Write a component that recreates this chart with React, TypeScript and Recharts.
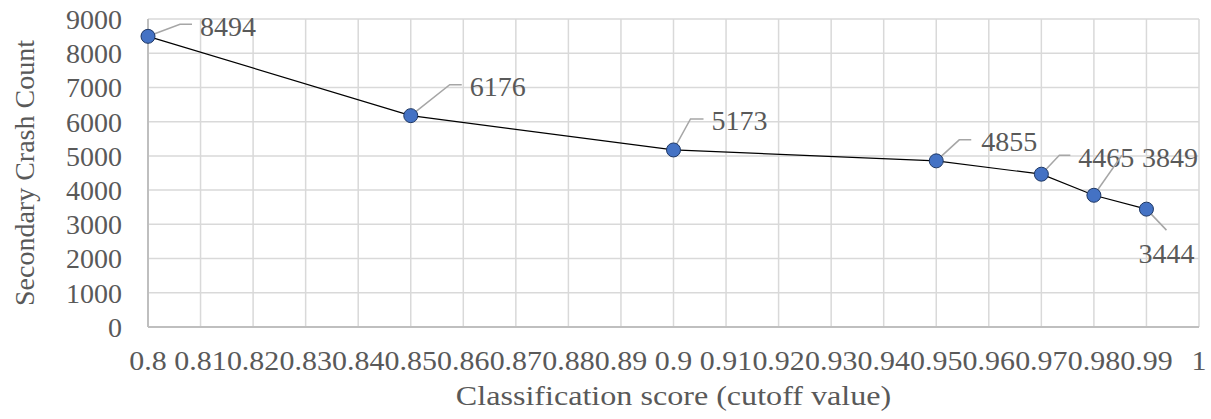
import { LineChart, Line, XAxis, YAxis, CartesianGrid } from 'recharts'

// Valores
const cutoffs = [0.8, 0.85, 0.9, 0.95, 0.97, 0.98, 0.99]
const crashCounts = [8494, 6176, 5173, 4855, 4465, 3849, 3444]

const xTicks = [0.8, 0.81, 0.82, 0.83, 0.84, 0.85, 0.86, 0.87, 0.88, 0.89, 0.9, 0.91, 0.92, 0.93, 0.94, 0.95, 0.96, 0.97, 0.98, 0.99, 1]
const xTickLabels = ['0.8', '0.81', '0.82', '0.83', '0.84', '0.85', '0.86', '0.87', '0.88', '0.89', '0.9', '0.91', '0.92', '0.93', '0.94', '0.95', '0.96', '0.97', '0.98', '0.99', '1']
const yTicks = [0, 1000, 2000, 3000, 4000, 5000, 6000, 7000, 8000, 9000]

const xTitle = 'Classification score (cutoff value)'
const yTitle = 'Secondary Crash Count'

const FONT = '"Liberation Serif", "Times New Roman", serif'
const TEXT = '#595959'

// Posición de cada etiqueta respecto a su punto (codo / fin de la guía / texto)
const LABEL_LAYOUT = [
  { ex: 32, ey: -12, hx: 44, tx: 52, ty: -10 },
  { ex: 39, ey: -31, hx: 51, tx: 59, ty: -29 },
  { ex: 17, ey: -31, hx: 30, tx: 38, ty: -30 },
  { ex: 23, ey: -21, hx: 35, tx: 45, ty: -20 },
  { ex: 18, ey: -19, hx: 29, tx: 37, ty: -17 },
  { ex: 28, ey: -40, hx: 28, tx: 48, ty: -38 },
  { ex: 20, ey: 21, hx: 20, tx: -8, ty: 44 },
]

const data = cutoffs.map((c, i) => ({ cutoff: c, count: crashCounts[i] }))

function XTick(props: any) {
  const { x, y, payload } = props
  const idx = xTicks.findIndex((t) => Math.abs(t - payload.value) < 1e-9)
  const label = idx >= 0 ? xTickLabels[idx] : String(payload.value)
  // el texto del eje X del original está algo ensanchado en horizontal
  return (
    <text
      transform={`translate(${x},${y}) scale(1.07,1)`}
      dy="0.71em"
      textAnchor="middle"
      fontFamily={FONT}
      fontSize={28}
      fill={TEXT}
    >
      {label}
    </text>
  )
}

function DotWithLabel(props: any) {
  const { cx, cy, index, payload } = props
  const l = LABEL_LAYOUT[index]
  return (
    <g>
      <polyline
        points={`${cx},${cy} ${cx + l.ex},${cy + l.ey} ${cx + l.hx},${cy + l.ey}`}
        fill="none"
        stroke="#a6a6a6"
        strokeWidth={1.5}
      />
      <circle cx={cx} cy={cy} r={7} fill="#4472c4" stroke="#1f3864" strokeWidth={1} />
      <text
        x={cx + l.tx}
        y={cy + l.ty}
        dy="0.35em"
        fontFamily={FONT}
        fontSize={28}
        fill={TEXT}
      >
        {payload.count}
      </text>
    </g>
  )
}

function XTitle(props: any) {
  const { viewBox } = props
  const cx = viewBox.x + viewBox.width / 2
  return (
    <text
      transform={`translate(${cx},405) scale(1.19,1)`}
      textAnchor="middle"
      fontFamily={FONT}
      fontSize={27}
      fill={TEXT}
    >
      {xTitle}
    </text>
  )
}

function YTitle(props: any) {
  const { viewBox } = props
  const cy = viewBox.y + viewBox.height / 2
  return (
    <text
      x={24}
      y={cy}
      transform={`rotate(-90 24 ${cy})`}
      textAnchor="middle"
      dominantBaseline="central"
      fontFamily={FONT}
      fontSize={28}
      fill={TEXT}
    >
      {yTitle}
    </text>
  )
}

export default function App() {
  return (
    <div style={{ position: 'absolute', left: 0, top: 0, width: 1211, height: 419, background: '#fff' }}>
      <LineChart
        width={1211}
        height={419}
        data={data}
        margin={{ top: 19, right: 12, bottom: 0, left: 0 }}
      >
        <CartesianGrid stroke="#d9d9d9" strokeWidth={1.5} />
        <XAxis
          dataKey="cutoff"
          type="number"
          domain={[0.8, 1]}
          ticks={xTicks}
          interval={0}
          height={92}
          tickSize={0}
          tickMargin={23}
          axisLine={{ stroke: '#bfbfbf', strokeWidth: 2 }}
          tick={<XTick />}
          label={<XTitle />}
        />
        <YAxis
          type="number"
          domain={[0, 9000]}
          ticks={yTicks}
          interval={0}
          width={148}
          tickSize={0}
          tickMargin={26}
          axisLine={{ stroke: '#bfbfbf', strokeWidth: 2 }}
          tick={{ fill: TEXT, fontFamily: FONT, fontSize: 28 }}
          label={<YTitle />}
        />
        <Line
          type="linear"
          dataKey="count"
          stroke="#000"
          strokeWidth={1.2}
          dot={<DotWithLabel />}
          activeDot={false}
          isAnimationActive={false}
        />
      </LineChart>
    </div>
  )
}
